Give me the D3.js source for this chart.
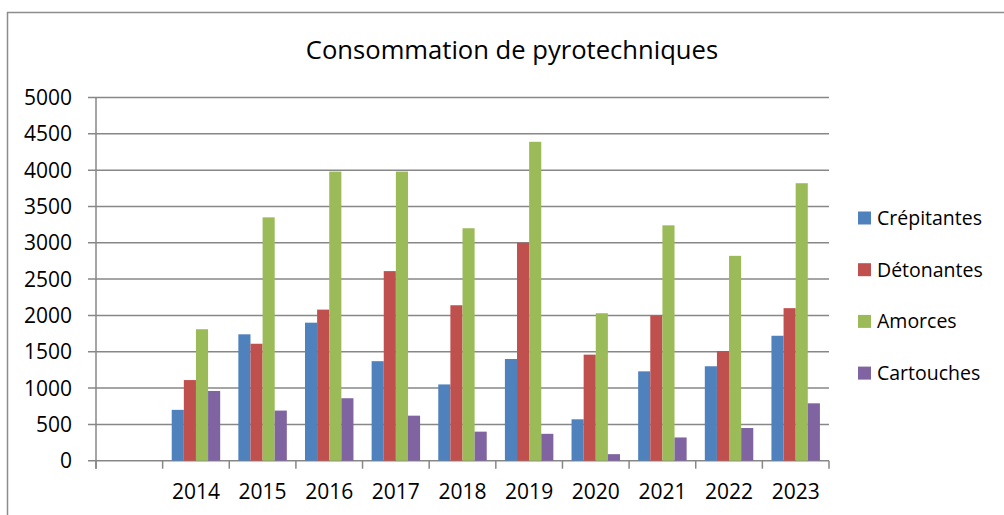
<!doctype html>
<html lang="fr">
<head>
    <meta charset="utf-8">
    <title>Consommation de pyrotechniques</title>
    <style type="text/css">
        body { margin: 0px; background: #ffffff; }
        text { font-family: "Open Sans", sans-serif; fill: #000000; }
    </style>
</head>
<body>
    <script src="https://cdnjs.cloudflare.com/ajax/libs/d3/7.8.5/d3.min.js"></script>
    <div id="chart"></div>
    <script>
        // data (first category is empty)
        var categories = ["", "2014", "2015", "2016", "2017", "2018", "2019", "2020", "2021", "2022", "2023"]
        var seriesNames = ["Crépitantes", "Détonantes", "Amorces", "Cartouches"]
        var crepitantes = [null, 700, 1740, 1900, 1370, 1050, 1400, 570, 1230, 1300, 1720]
        var detonantes = [null, 1110, 1610, 2080, 2610, 2140, 3000, 1460, 2000, 1510, 2100]
        var amorces = [null, 1810, 3350, 3980, 3980, 3200, 4390, 2030, 3240, 2820, 3820]
        var cartouches = [null, 960, 690, 860, 620, 400, 370, 90, 320, 450, 790]
        var yTicks = [0, 500, 1000, 1500, 2000, 2500, 3000, 3500, 4000, 4500, 5000]
        var colors = ["#4F81BD", "#C0504D", "#9BBB59", "#8064A2"]

        var allSeries = [crepitantes, detonantes, amorces, cartouches]

        var width = 1004
        var height = 515
        var plotLeft = 96, plotRight = 829, plotTop = 97.5, plotBottom = 460.7

        var svg = d3.select("#chart")
            .append("svg")
            .attr("width", width)
            .attr("height", height)

        // outer chart border
        svg.append("rect")
            .attr("x", 7.5).attr("y", 12.5)
            .attr("width", 1010).attr("height", 520)
            .attr("fill", "none")
            .attr("stroke", "#8c8c8c")
            .attr("stroke-width", 1.5)

        var x = d3.scaleBand()
            .domain(d3.range(categories.length))
            .range([plotLeft, plotRight])
            .paddingInner(0)
            .paddingOuter(0)

        // gap width 150% -> group uses 4 / 5.5 of the category
        var groupWidth = x.bandwidth() * 4 / 5.5
        var xSub = d3.scaleBand()
            .domain(d3.range(seriesNames.length))
            .range([0, groupWidth])

        var y = d3.scaleLinear()
            .domain([0, 5000])
            .range([plotBottom, plotTop])

        // gridlines
        svg.append("g")
            .selectAll("line")
            .data(yTicks)
            .enter()
            .append("line")
            .attr("x1", plotLeft - 8).attr("x2", plotRight)
            .attr("y1", function (d) { return y(d) }).attr("y2", function (d) { return y(d) })
            .attr("stroke", "#878787")
            .attr("stroke-width", 1.5)

        // y axis labels
        svg.append("g")
            .selectAll("text")
            .data(yTicks)
            .enter()
            .append("text")
            .attr("x", 72)
            .attr("y", function (d) { return y(d) })
            .attr("dy", "0.36em")
            .attr("text-anchor", "end")
            .style("font-size", "21px")
            .text(function (d) { return d })

        // bars
        allSeries.forEach(function (values, s) {
            svg.append("g")
                .selectAll("rect")
                .data(values.map(function (v, i) { return { i: i, v: v } }).filter(function (d) { return d.v != null }))
                .enter()
                .append("rect")
                .attr("x", function (d) { return x(d.i) + (x.bandwidth() - groupWidth) / 2 + xSub(s) })
                .attr("width", xSub.bandwidth())
                .attr("y", function (d) { return y(d.v) })
                .attr("height", function (d) { return y(0) - y(d.v) })
                .attr("fill", colors[s])
        })

        // y axis line
        svg.append("line")
            .attr("x1", plotLeft).attr("x2", plotLeft)
            .attr("y1", plotTop).attr("y2", plotBottom + 8)
            .attr("stroke", "#878787").attr("stroke-width", 1.5)

        // x axis ticks at category boundaries
        var bounds = d3.range(categories.length + 1).map(function (i) { return plotLeft + i * x.step() })
        svg.append("g")
            .selectAll("line")
            .data(bounds)
            .enter()
            .append("line")
            .attr("x1", function (d) { return d }).attr("x2", function (d) { return d })
            .attr("y1", plotBottom).attr("y2", plotBottom + 8)
            .attr("stroke", "#878787").attr("stroke-width", 1.5)

        // x labels
        svg.append("g")
            .selectAll("text")
            .data(categories)
            .enter()
            .append("text")
            .attr("x", function (d, i) { return x(i) + x.bandwidth() / 2 })
            .attr("y", 491)
            .attr("dy", "0.36em")
            .attr("text-anchor", "middle")
            .style("font-size", "21px")
            .text(function (d) { return d })

        // title
        svg.append("text")
            .attr("x", 512)
            .attr("y", 50)
            .attr("dy", "0.36em")
            .attr("text-anchor", "middle")
            .style("font-size", "25.6px")
            .text("Consommation de pyrotechniques")

        // legend
        var legend = svg.append("g")
            .selectAll("g")
            .data(seriesNames)
            .enter()
            .append("g")
            .attr("transform", function (d, i) { return "translate(858," + (218 + i * 51.7) + ")" })

        legend.append("rect")
            .attr("x", 0).attr("y", -6.5)
            .attr("width", 13).attr("height", 13)
            .attr("fill", function (d, i) { return colors[i] })

        legend.append("text")
            .attr("x", 19)
            .attr("y", 0)
            .attr("dy", "0.36em")
            .style("font-size", "19.5px")
            .text(function (d) { return d })
    </script>
</body>
</html>
